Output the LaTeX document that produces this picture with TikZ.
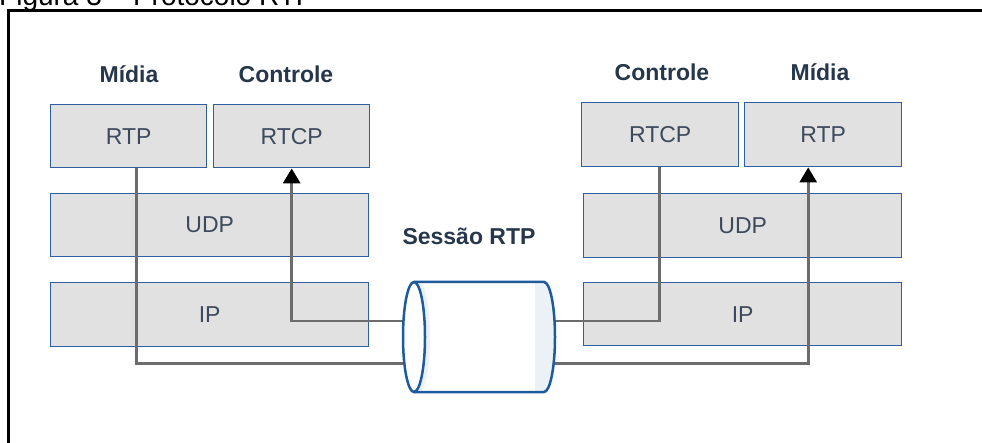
\documentclass[tikz,border=0pt]{standalone}
\usepackage{fontspec}
\setmainfont{Liberation Sans}
\usetikzlibrary{arrows.meta}
\definecolor{boxblue}{HTML}{2F5EA3}
\definecolor{boxfill}{HTML}{E1E1E1}
\definecolor{boxtext}{HTML}{3C4A5C}
\definecolor{labeltext}{HTML}{26364B}
\definecolor{wiregray}{HTML}{6C6C6C}
\definecolor{cylblue}{HTML}{1D5A9E}
\definecolor{cylshade}{HTML}{ECF1F6}

\begin{document}
\begin{tikzpicture}[x=1pt,y=-1pt,
  layer/.style={draw=boxblue, line width=1.4pt, fill=boxfill, text=boxtext,
    font=\fontsize{23}{27}\selectfont, inner sep=0pt, anchor=north west},
  heading/.style={text=labeltext, font=\bfseries\fontsize{23}{27}\selectfont,
    inner sep=0pt, anchor=base},
  wire/.style={draw=wiregray, line width=2.8pt},
  flow/.style={wire, -{Triangle[width=17pt,length=15pt,color=black]}},
  cylline/.style={draw=cylblue, line width=2.5pt},
]
\useasboundingbox (0,0) rectangle (982,443);
\clip (0,0) rectangle (982,443);

% caption and frame
\node[anchor=base west, inner sep=0pt, font=\fontsize{28}{32}\selectfont] (caption) at (-1,6) {Figura 3 – Protocolo RTP};
\draw[line width=3pt] (8.7,480) |- (1000,10.7);

% left protocol stack
\node[layer, minimum width=156pt, minimum height=63pt] (rtpL)  at (50,104)  {RTP};
\node[layer, minimum width=156pt, minimum height=63pt] (rtcpL) at (213,104) {RTCP};
\node[layer, minimum width=318pt, minimum height=63pt] (udpL)  at (50,193)  {UDP};
\node[layer, minimum width=318pt, minimum height=64pt] (ipL)   at (50,282)  {IP};

% right protocol stack
\node[layer, minimum width=157pt, minimum height=64pt] (rtcpR) at (581,102) {RTCP};
\node[layer, minimum width=157pt, minimum height=64pt] (rtpR)  at (744,102) {RTP};
\node[layer, minimum width=318pt, minimum height=64pt] (udpR)  at (583,193) {UDP};
\node[layer, minimum width=318pt, minimum height=63pt] (ipR)   at (583,282) {IP};

% headings
\node[heading] (midiaL) at (129,83) {Mídia};
\node[heading] (ctrlL)  at (286,83) {Controle};
\node[heading] (ctrlR)  at (662,81) {Controle};
\node[heading] (midiaR) at (820,81) {Mídia};
\node[heading] (sessao) at (469,245) {Sessão RTP};

% levels where the streams cross the session
\coordinate (ctrlLevel)  at (479,321);
\coordinate (mediaLevel) at (479,363.5);

% media and control streams
\draw[flow] ([xshift=8pt]rtpL.south) |- (mediaLevel) -| ([xshift=-15pt]rtpR.south);
\draw[flow] ([xshift=-0.5pt]rtcpR.south) |- (ctrlLevel) -| (rtcpL.south);

% session cylinder
\fill[white] (414,282) -- (544,282) arc[start angle=-90, end angle=90, x radius=11, y radius=55]
  -- (414,392) arc[start angle=90, end angle=270, x radius=11, y radius=55] -- cycle;
\fill[cylshade] (535,282) -- (544,282) arc[start angle=-90, end angle=90, x radius=11, y radius=55]
  -- (535,392) -- cycle;
\fill[cylshade] (414,282) -- (419,282) arc[start angle=-90, end angle=90, x radius=11, y radius=55]
  -- (414,392) arc[start angle=90, end angle=-90, x radius=11, y radius=55] -- cycle;
\draw[cylline] (414,282) -- (544,282) arc[start angle=-90, end angle=90, x radius=11, y radius=55] -- (414,392);
\filldraw[cylline, fill=white] (414,337) ellipse [x radius=11, y radius=55];
\end{tikzpicture}
\end{document}
